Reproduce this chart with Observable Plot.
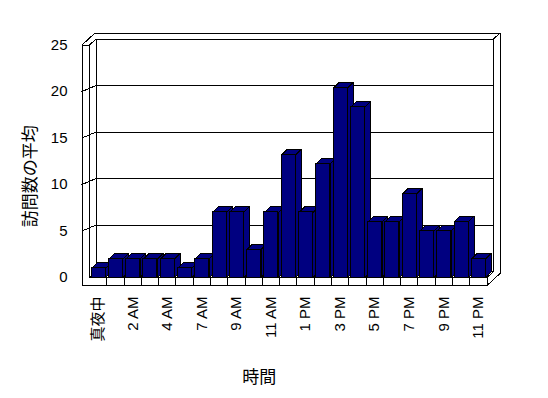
<!DOCTYPE html>
<html>
<head>
<meta charset="utf-8">
<script src="https://cdn.jsdelivr.net/npm/d3@7"></script>
<script src="https://cdn.jsdelivr.net/npm/@observablehq/plot@0.6"></script>
<style>
  html, body { margin: 0; padding: 0; background: #fff; }
  svg { shape-rendering: crispEdges; }
  svg text { shape-rendering: auto; }
</style>
</head>
<body>
<div id="chart"></div>
<script>
// ---- data ----
const hours = ["真夜中","1 AM","2 AM","3 AM","4 AM","5 AM","7 AM","8 AM","9 AM","10 AM","11 AM","正午",
               "1 PM","2 PM","3 PM","4 PM","5 PM","6 PM","7 PM","8 PM","9 PM","10 PM","11 PM"];
const visits = [1, 2, 2, 2, 2, 1, 2, 7, 7, 3, 7, 13.2, 7, 12.2, 20.4, 18.3, 6, 6, 9, 5, 5, 6, 2];
const yTicks = [0, 5, 10, 15, 20, 25];
const yTitle = "訪問数の平均";
const xTitle = "時間";

// ---- layout ----
const W = 548, H = 398;
const mL = 89, mR = 61.5, mT = 44.5, mB = 121;
const n = hours.length;
const yMax = yTicks[yTicks.length - 1];
const kx = (W - mL - mR) / n;          // px per category
const ky = (H - mT - mB) / yMax;       // px per value unit
const ux = p => p / kx, uy = p => p / ky;

const dX = ux(6.5), dY = uy(6);        // box depth
const bdX = ux(5.6), bdY = uy(5.6);    // bar depth
const T = ux(7.5);                     // left wall thickness
const F = uy(8);                       // floor thickness
const a = 0.12, b = 0.93;              // bar front extent within category

const bars = hours.map((h, i) => ({i, h, v: visits[i]}));

const poly = (id, pts) => pts.map(([x, y]) => ({id, x, y}));

const sides = bars.flatMap(d => poly(d.i, [
  [d.i + b, 0], [d.i + b, d.v], [d.i + b + bdX, d.v + bdY], [d.i + b + bdX, bdY]
]));
const tops = bars.flatMap(d => poly(d.i, [
  [d.i + a, d.v], [d.i + b, d.v], [d.i + b + bdX, d.v + bdY], [d.i + a + bdX, d.v + bdY]
]));

const outline = poly("o", [
  [-T, yMax], [-T + 2 * dX, yMax + 2 * dY], [n + 2 * dX, yMax + 2 * dY],
  [n + 2 * dX, -F + 2 * dY], [n, -F], [-T, -F]
]);

const edgeList = [
  [[0, yMax], [0, 0]],
  [[-T, yMax], [0, yMax]],
  [[0, yMax], [dX, yMax + dY]],
  [[dX, dY], [dX, yMax + dY], [n + dX, yMax + dY], [n + dX, dY]],
  [[n + dX, yMax + dY], [n + 2 * dX, yMax + 2 * dY]],
  [[0, 0], [n, 0]],
  [[n, 0], [n, -F]],
  [[n, 0], [n + dX, dY]],
  [[0, 0], [dX, dY], [n + dX, dY]],
  ...d3.range(1, n).map(k => [[k, 0], [k, -F]]),
  ...yTicks.filter(v => v > 0 && v < yMax).map(v => [[-T, v], [dX, v + dY], [n + dX, v + dY]])
];
const edges = edgeList.flatMap((pts, id) => poly(id, pts));

const font = "'Liberation Sans', Arial, 'Noto Sans CJK JP', sans-serif";
const cjk = "'Noto Sans CJK JP', sans-serif";
const navy = "#000080";

const chart = Plot.plot({
  width: W, height: H,
  marginLeft: mL, marginRight: mR, marginTop: mT, marginBottom: mB,
  style: {background: "white", fontFamily: font, fontSize: "15px", color: "black"},
  x: {type: "linear", domain: [0, n], axis: null},
  y: {type: "linear", domain: [0, yMax], axis: null},
  marks: [
    Plot.line(outline, {x: "x", y: "y", z: "id", curve: "linear-closed", fill: "white", stroke: "black", strokeWidth: 1}),
    Plot.line(edges, {x: "x", y: "y", z: "id", stroke: "black", strokeWidth: 1}),
    Plot.line(sides, {x: "x", y: "y", z: "id", curve: "linear-closed", fill: navy, stroke: "black", strokeWidth: 1}),
    Plot.line(tops, {x: "x", y: "y", z: "id", curve: "linear-closed", fill: navy, stroke: "black", strokeWidth: 1}),
    Plot.rectY(bars, {x1: d => d.i + a, x2: d => d.i + b, y1: 0, y2: "v", fill: navy, stroke: "black", strokeWidth: 1}),
    Plot.text(yTicks, {x: -T, y: d => d, text: d => String(d), dx: -14.5, textAnchor: "end", fontSize: 15, fill: "black"}),
    Plot.text(bars.filter(d => d.i % 2 === 0), {x: d => d.i + 0.5, y: -F, text: "h", rotate: -90, textAnchor: "end", lineAnchor: "middle", dy: 11, fontSize: 15, fill: "black"}),
    Plot.text([yTitle], {frameAnchor: "left", text: d => d, rotate: -90, textAnchor: "middle", lineAnchor: "middle", dx: -59, dy: 15, fontSize: 17, fontFamily: cjk, fill: "black"}),
    Plot.text([xTitle], {frameAnchor: "bottom", text: d => d, textAnchor: "middle", dx: -29, dy: 100, lineAnchor: "middle", fontSize: 17, fontFamily: cjk, fill: "black"})
  ]
});
document.getElementById("chart").appendChild(chart);
</script>
</body>
</html>
